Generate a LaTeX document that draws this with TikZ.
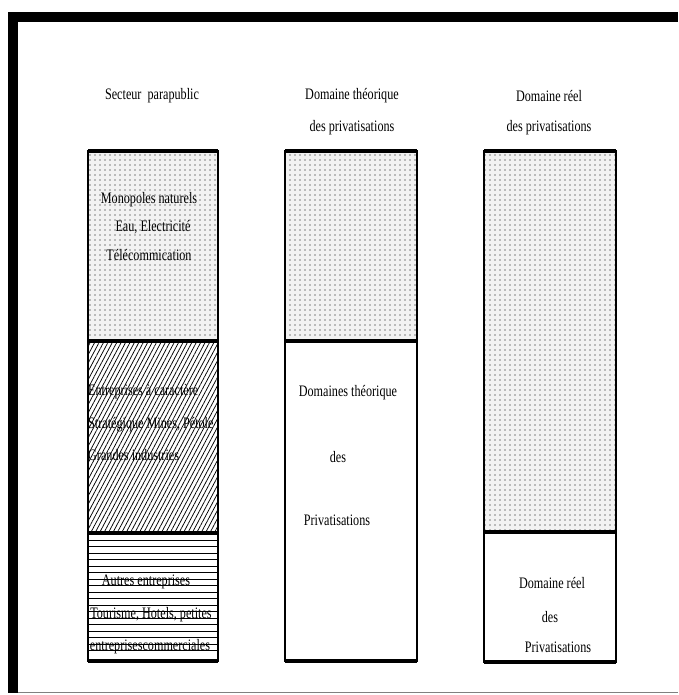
\documentclass[tikz,border=0pt]{standalone}
\usepackage{fontspec}
\setmainfont{Liberation Serif}[FakeStretch=0.76]
\usetikzlibrary{patterns.meta}

\begin{document}
\begin{tikzpicture}[x=1pt,y=-1pt,
  txt/.style={inner sep=0pt,font=\fontsize{16}{16}\selectfont},
  dotzone/.style={preaction={fill=black!5},pattern={Dots[distance=5pt,radius=0.65pt]}},
  hatchzone/.style={pattern={Lines[angle=62,distance=3.9pt,line width=0.75pt]}},
  rule/.style={line width=0.9pt},
  edge/.style={line width=3.5pt}]
\useasboundingbox (0,0) rectangle (678,695);
% frame
\fill (8,12) rectangle (678,22);
\fill (8,12) rectangle (18,693);
\draw[gray,line width=1pt] (18,692.5) -- (678,692.5);

% zones
\path[dotzone] (88,151) rectangle (218,341);
\path[hatchzone] (88,341) rectangle (218,533);
\draw[rule] \foreach \y in {540,546.5,...,656} {(88,\y) -- (218,\y)};
\path[dotzone] (285,151) rectangle (417,341);
\path[dotzone] (484,151) rectangle (616,532);

% borders
\foreach \xa/\xb/\yb in {88/218/661, 285/417/661, 484/616/662} {
  \draw[line width=2pt] (\xa,151) rectangle (\xb,\yb);
  \draw[edge] (\xa,151) -- (\xb,151);
  \draw[edge] (\xa,\yb) -- (\xb,\yb);
}
\draw[edge] (88,341) -- (218,341);
\draw[edge] (88,533) -- (218,533);
\draw[edge] (285,341) -- (417,341);
\draw[edge] (484,532) -- (616,532);

% titles
\node[txt] (sect) at (152,96) {Secteur\ \ parapublic};
\node[txt] (theo1) at (352,96) {Domaine théorique};
\node[txt] (theo2) at (352,128) {des privatisations};
\node[txt] (reel1) at (549,96) {Domaine réel};
\node[txt] (reel2) at (549,128) {des privatisations};

% secteur parapublic
\node[txt] (mono1) at (149,200) {Monopoles naturels};
\node[txt] (mono2) at (153,227) {Eau, Electricité};
\node[txt] (mono3) at (149,255) {Télécommication};
\node[txt,anchor=west] (strat1) at (88,392) {Entreprises à caractère};
\node[txt,anchor=west] (strat2) at (88,425) {Stratégique Mines, Pétole};
\node[txt,anchor=west] (strat3) at (88,455) {Grandes industries};
\node[txt] (autre1) at (146,582) {Autres entreprises};
\node[txt] (autre2) at (151,615) {Tourisme, Hotels, petites};
\node[txt] (autre3) at (150,647) {entreprisescommerciales};

% domaines
\node[txt] (dth1) at (348,393) {Domaines théorique};
\node[txt] (dth2) at (338,457) {des};
\node[txt] (dth3) at (337,520) {Privatisations};
\node[txt] (dre1) at (552,583) {Domaine réel};
\node[txt] (dre2) at (550,617) {des};
\node[txt] (dre3) at (558,647) {Privatisations};
\end{tikzpicture}
\end{document}
